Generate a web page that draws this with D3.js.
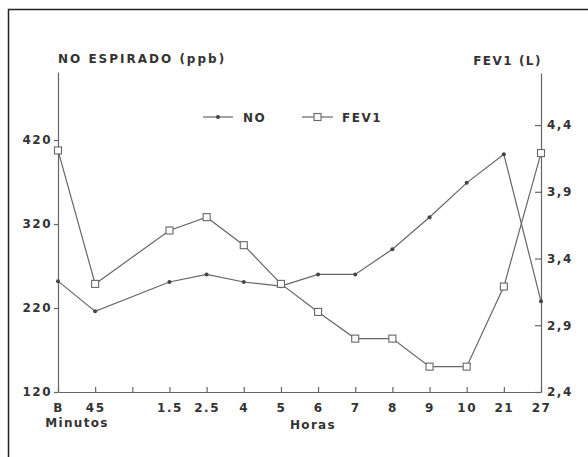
<!DOCTYPE html>
<html>
<head>
<meta charset="utf-8">
<script src="https://cdn.jsdelivr.net/npm/d3@7"></script>
<style>
  html, body { margin: 0; padding: 0; background: #fff; }
  svg { display: block; }
  text { font-family: "DejaVu Sans", sans-serif; font-weight: bold; fill: #333; }
</style>
</head>
<body>
<svg id="chart" width="588" height="457"></svg>
<script>
// Time points (slot 2 is an unlabeled spacer tick)
const timeLabels = ["B", "45", "", "1.5", "2.5", "4", "5", "6", "7", "8", "9", "10", "21", "27"];
// Exhaled NO (ppb), left axis
const noValues   = [252, 216, null, 251, 260, 251, 246, 260, 260, 290, 328, 369, 403, 228];
// FEV1 (L), right axis
const fevValues  = [4.21, 3.21, null, 3.61, 3.71, 3.50, 3.21, 3.00, 2.80, 2.80, 2.59, 2.59, 3.19, 4.19];
const leftTicks  = [120, 220, 320, 420];
const rightTicks = [2.4, 2.9, 3.4, 3.9, 4.4];

const svg = d3.select("#chart");
const ink = "#666";

// outer frame (top and left edges)
svg.append("path")
  .attr("d", "M8.5,457 V9.5 H588")
  .attr("fill", "none").attr("stroke", "#222").attr("stroke-width", 1.5);

const x = d3.scalePoint().domain(d3.range(timeLabels.length)).range([58, 541]);
const yL = d3.scaleLinear().domain([120, 501]).range([392, 72]);
const yR = d3.scaleLinear().domain([2.4, 4.79]).range([392, 73]);

function styleAxis(g) {
  g.selectAll("path, line").attr("stroke", ink).attr("stroke-width", 1.2);
  g.selectAll("text").attr("font-family", "DejaVu Sans").attr("font-weight", "bold")
    .attr("font-size", 12).attr("fill", "#333").attr("letter-spacing", 1.5);
}

// bottom axis
svg.append("g").attr("transform", "translate(0,392)")
  .call(d3.axisBottom(x).tickFormat(i => timeLabels[i]).tickSizeInner(-5).tickSizeOuter(0).tickPadding(11))
  .call(styleAxis);

// left axis
svg.append("g").attr("transform", "translate(58,0)")
  .call(d3.axisLeft(yL).tickValues(leftTicks).tickFormat(d3.format("d")).tickSizeInner(4).tickSizeOuter(0).tickPadding(2))
  .call(styleAxis);

// right axis
svg.append("g").attr("transform", "translate(541,0)")
  .call(d3.axisRight(yR).tickValues(rightTicks).tickFormat(d => d3.format(".1f")(d).replace(".", ","))
    .tickSizeInner(-6).tickSizeOuter(0).tickPadding(6))
  .call(styleAxis);

// axis titles
svg.append("text").attr("x", 58).attr("y", 63).attr("font-size", 12).attr("letter-spacing", 2)
  .text("NO ESPIRADO (ppb)");
svg.append("text").attr("x", 542).attr("y", 65).attr("font-size", 12).attr("letter-spacing", 1.5)
  .attr("text-anchor", "end").text("FEV1 (L)");
svg.append("text").attr("x", 77).attr("y", 427).attr("font-size", 12).attr("letter-spacing", 1.3)
  .attr("text-anchor", "middle").text("Minutos");
svg.append("text").attr("x", 313).attr("y", 429).attr("font-size", 12).attr("letter-spacing", 1.3)
  .attr("text-anchor", "middle").text("Horas");

// series
const noPts = noValues.map((v, i) => ({ i, v })).filter(d => d.v != null);
const fevPts = fevValues.map((v, i) => ({ i, v })).filter(d => d.v != null);

svg.append("path").datum(noPts)
  .attr("d", d3.line().x(d => x(d.i)).y(d => yL(d.v)))
  .attr("fill", "none").attr("stroke", ink).attr("stroke-width", 1.2);
svg.append("path").datum(fevPts)
  .attr("d", d3.line().x(d => x(d.i)).y(d => yR(d.v)))
  .attr("fill", "none").attr("stroke", ink).attr("stroke-width", 1.2);

svg.selectAll(".no-dot").data(noPts).join("circle")
  .attr("cx", d => x(d.i)).attr("cy", d => yL(d.v)).attr("r", 2).attr("fill", "#444");
svg.selectAll(".fev-sq").data(fevPts).join("rect")
  .attr("x", d => x(d.i) - 3.5).attr("y", d => yR(d.v) - 3.5)
  .attr("width", 7).attr("height", 7)
  .attr("fill", "#fff").attr("stroke", ink).attr("stroke-width", 1.1);

// legend
const leg = svg.append("g");
leg.append("line").attr("x1", 203).attr("x2", 233).attr("y1", 117).attr("y2", 117)
  .attr("stroke", ink).attr("stroke-width", 1.2);
leg.append("circle").attr("cx", 218).attr("cy", 117).attr("r", 2).attr("fill", "#444");
leg.append("text").attr("x", 243).attr("y", 121.5).attr("font-size", 12).attr("letter-spacing", 1.5).text("NO");
leg.append("line").attr("x1", 302).attr("x2", 333).attr("y1", 117).attr("y2", 117)
  .attr("stroke", ink).attr("stroke-width", 1.2);
leg.append("rect").attr("x", 314).attr("y", 113.5).attr("width", 7).attr("height", 7)
  .attr("fill", "#fff").attr("stroke", ink).attr("stroke-width", 1.1);
leg.append("text").attr("x", 342).attr("y", 121.5).attr("font-size", 12).attr("letter-spacing", 1.5).text("FEV1");
</script>
</body>
</html>
